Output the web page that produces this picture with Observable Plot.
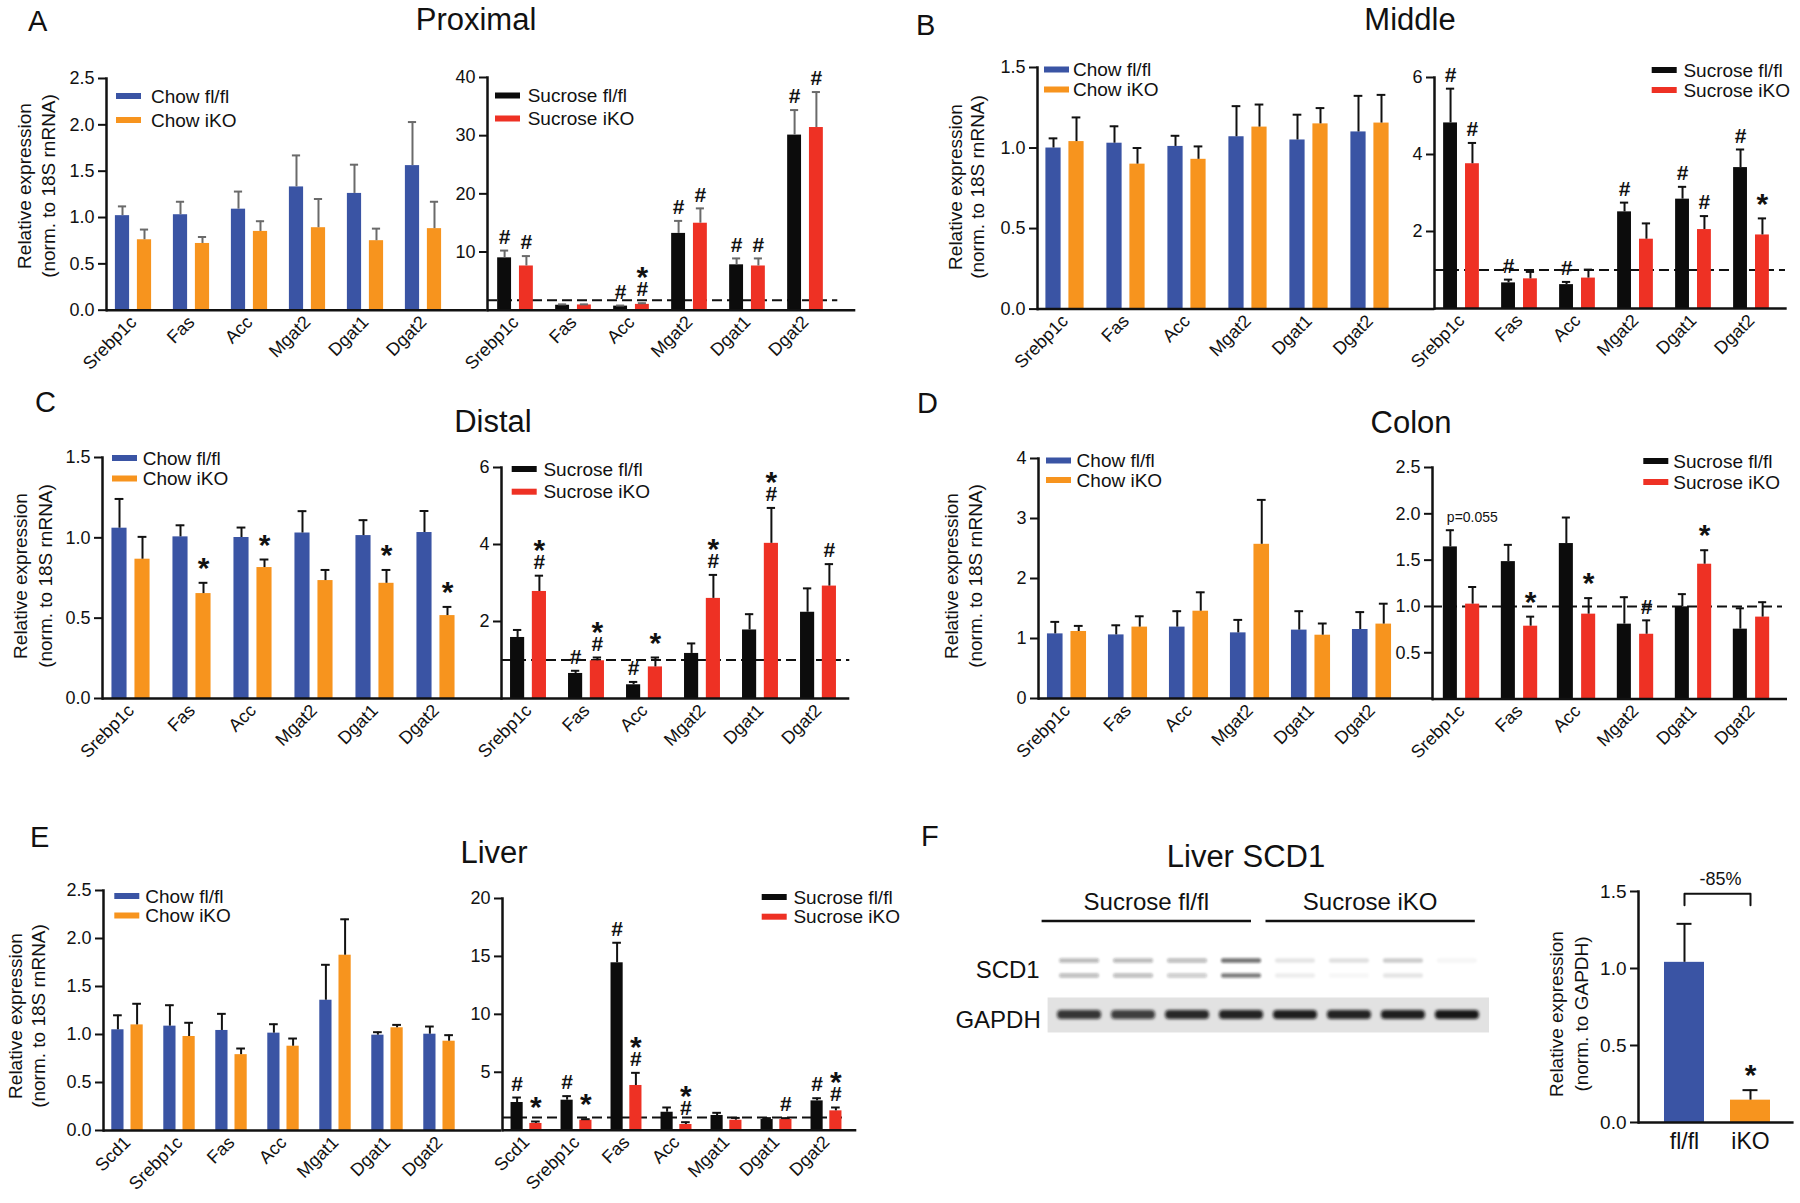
<!DOCTYPE html>
<html>
<head>
<meta charset="utf-8">
<title>Figure</title>
<script src="https://cdn.jsdelivr.net/npm/d3@7"></script>
<script src="https://cdn.jsdelivr.net/npm/@observablehq/plot@0.6"></script>
<style>
  html, body { margin: 0; padding: 0; background: #ffffff; overflow: hidden; }
  #fig { position: relative; width: 1800px; height: 1203px; overflow: hidden; background: #fff; }
  .panel { position: absolute; }
  .panel svg { display: block; max-width: none; }
</style>
</head>
<body>
<div id="fig"></div>
<script>
// ---------------- DATA ----------------
const gutGenes   = ["Srebp1c", "Fas", "Acc", "Mgat2", "Dgat1", "Dgat2"];
const liverGenes = ["Scd1", "Srebp1c", "Fas", "Acc", "Mgat1", "Dgat1", "Dgat2"];
const chowLabels = ["Chow fl/fl", "Chow iKO"];
const sucLabels  = ["Sucrose fl/fl", "Sucrose iKO"];

// A  Proximal
const proxChowFl    = [1.02, 1.03, 1.09, 1.33, 1.26, 1.56];
const proxChowFlSem = [0.10, 0.14, 0.19, 0.34, 0.31, 0.47];
const proxChowKo    = [0.76, 0.72, 0.85, 0.89, 0.75, 0.88];
const proxChowKoSem = [0.11, 0.07, 0.11, 0.31, 0.13, 0.29];
const proxSucFl     = [9.0, 0.85, 0.7, 13.2, 7.8, 30.1];
const proxSucFlSem  = [1.25, 0.15, 0.1, 2.15, 1.1, 4.3];
const proxSucKo     = [7.6, 0.9, 1.0, 14.95, 7.6, 31.4];
const proxSucKoSem  = [1.7, 0.1, 0.2, 2.55, 1.3, 6.1];
const proxSucFlMarks = ["#", "", "#", "#", "#", "#"];
const proxSucKoMarks = ["#", "", "#*", "#", "#", "#"];
const proxRef = 1.7;

// B  Middle
const midChowFl    = [1.00, 1.03, 1.01, 1.07, 1.05, 1.10];
const midChowFlSem = [0.06, 0.105, 0.066, 0.19, 0.157, 0.224];
const midChowKo    = [1.04, 0.90, 0.93, 1.13, 1.15, 1.155];
const midChowKoSem = [0.15, 0.10, 0.08, 0.14, 0.098, 0.175];
const midSucFl     = [4.82, 0.665, 0.62, 2.51, 2.84, 3.66];
const midSucFlSem  = [0.89, 0.085, 0.07, 0.24, 0.32, 0.47];
const midSucKo     = [3.76, 0.77, 0.79, 1.80, 2.05, 1.91];
const midSucKoSem  = [0.54, 0.18, 0.22, 0.41, 0.35, 0.43];
const midSucFlMarks = ["#", "#", "#", "#", "#", "#"];
const midSucKoMarks = ["#", "", "", "", "#", "*"];
const midRef = 1.0;

// C  Distal
const distChowFl    = [1.06, 1.006, 1.002, 1.03, 1.014, 1.033];
const distChowFlSem = [0.182, 0.072, 0.062, 0.136, 0.096, 0.134];
const distChowKo    = [0.867, 0.653, 0.815, 0.734, 0.717, 0.516];
const distChowKoSem = [0.139, 0.067, 0.05, 0.066, 0.083, 0.054];
const distChowKoMarks = ["", "*", "*", "", "*", "*"];
const distSucFl     = [1.585, 0.65, 0.356, 1.17, 1.78, 2.24];
const distSucFlSem  = [0.195, 0.07, 0.074, 0.26, 0.41, 0.62];
const distSucKo     = [2.78, 0.98, 0.82, 2.60, 4.03, 2.92];
const distSucKoSem  = [0.41, 0.085, 0.245, 0.61, 0.92, 0.57];
const distSucFlMarks = ["", "#", "#", "", "", ""];
const distSucKoMarks = ["#*", "#*", "*", "#*", "#*", "#"];
const distRef = 1.0;

// D  Colon
const colChowFl    = [1.077, 1.06, 1.19, 1.094, 1.14, 1.15];
const colChowFlSem = [0.20, 0.16, 0.265, 0.216, 0.315, 0.29];
const colChowKo    = [1.117, 1.19, 1.455, 2.57, 1.055, 1.24];
const colChowKoSem = [0.093, 0.18, 0.315, 0.74, 0.195, 0.34];
const colSucFl     = [1.643, 1.484, 1.679, 0.809, 0.996, 0.755];
const colSucFlSem  = [0.18, 0.181, 0.281, 0.291, 0.137, 0.225];
const colSucKo     = [1.025, 0.787, 0.917, 0.70, 1.456, 0.885];
const colSucKoSem  = [0.185, 0.103, 0.173, 0.15, 0.151, 0.161];
const colSucKoMarks = ["", "*", "*", "#", "*", ""];
const colSucFlP     = ["p=0.055", "", "", "", "", ""];
const colRef = 1.0;

// E  Liver
const livChowFl    = [1.049, 1.087, 1.042, 1.014, 1.357, 0.993, 1.003];
const livChowFlSem = [0.151, 0.218, 0.173, 0.093, 0.369, 0.031, 0.08];
const livChowKo    = [1.10, 0.979, 0.79, 0.878, 1.826, 1.07, 0.93];
const livChowKoSem = [0.22, 0.143, 0.064, 0.08, 0.374, 0.03, 0.063];
const livSucFl     = [2.39, 2.59, 14.45, 1.55, 1.27, 0.92, 2.53];
const livSucFlSem  = [0.43, 0.35, 1.73, 0.41, 0.23, 0.12, 0.23];
const livSucKo     = [0.58, 0.86, 3.86, 0.49, 0.86, 0.92, 1.67];
const livSucKoSem  = [0.17, 0.09, 1.09, 0.2, 0.2, 0.12, 0.29];
const livSucFlMarks = ["#", "#", "#", "", "", "", "#"];
const livSucKoMarks = ["*", "*", "#*", "#*", "", "#", "#*"];
const livRef = 1.1;

// F  Liver SCD1 western blot
const wbGroups = ["fl/fl", "iKO"];
const wbValues = [1.04, 0.145];
const wbSem    = [0.25, 0.065];
const wbMarks  = ["", "*"];
const wbChange = "-85%";
const wbLanes  = ["1", "2", "3", "4", "5", "6", "7", "8"];
const wbLaneGroup = ["Sucrose fl/fl", "Sucrose fl/fl", "Sucrose fl/fl", "Sucrose fl/fl",
                     "Sucrose iKO", "Sucrose iKO", "Sucrose iKO", "Sucrose iKO"];
const wbScd1Upper = [0.30, 0.30, 0.28, 0.62, 0.10, 0.12, 0.20, 0.04];
const wbScd1Lower = [0.28, 0.28, 0.22, 0.55, 0.07, 0.03, 0.10, 0.0];
const wbGapdh     = [0.82, 0.78, 0.88, 0.90, 0.92, 0.90, 0.92, 0.95];

// ---------------- STYLE ----------------
const FONT = '"Liberation Sans", Arial, Helvetica, sans-serif';
const BLUE = "#3a54a4", ORANGE = "#f7941e", BLACK = "#0c0c0c", RED = "#ee3124";
const INK = "#111111", GREYERR = "#6a6a6a";
const PSTYLE = `background: transparent; font-family: ${FONT}; color: ${INK}; overflow: visible;`;

const fig = document.getElementById("fig");
function place(node, left, top, w, h) {
  const div = document.createElement("div");
  div.className = "panel";
  div.style.left = left + "px"; div.style.top = top + "px";
  div.style.width = w + "px"; div.style.height = h + "px";
  div.appendChild(node);
  fig.appendChild(div);
}

function annotationMarks(rows, dx) {
  const items = [];
  rows.forEach(r => {
    if (!r.marks) return;
    let off = 0;
    [...r.marks].forEach((sym, j) => {
      off = j === 0 ? (sym === "#" ? 14 : 22) : off + 19;
      items.push({gene: r.gene, top: r.top, sym, off});
    });
  });
  return d3.groups(items, d => d.sym, d => d.off).flatMap(([sym, byOff]) =>
    byOff.map(([off, data]) => Plot.text(data, {
      x: "gene", y: "top", text: "sym", dx,
      dy: sym === "#" ? -off + 0.5 : -off + 7.5,
      fontSize: sym === "#" ? 21 : 30, fontWeight: "bold", fill: INK
    })));
}

function barPanel(p) {
  const left = p.ax - 64, top = p.yTop - 34;
  const W = p.xEnd - left + 8, H = p.y0 - top + 95;
  const half = p.step / 2;
  const x0 = p.c0 - half - left;
  const off = [-(p.gap / 2 + p.barW / 2), p.gap / 2 + p.barW / 2];
  const rows = p.series.map(s => p.genes.map((g, i) => ({
    gene: g, value: s.values[i], top: s.values[i] + s.sem[i],
    marks: s.marks ? s.marks[i] : "", p: s.pLabels ? s.pLabels[i] : ""
  })));
  const marks = [];
  if (p.ref != null) {
    marks.push(Plot.ruleY([p.ref], {stroke: INK, strokeWidth: 2, strokeDasharray: "10,5",
      insetRight: Math.max(0, p.xEnd - p.refEnd)}));
  }
  p.series.forEach((s, k) => {
    const near = half - p.gap / 2 - p.barW, far = half + p.gap / 2;
    marks.push(Plot.barY(rows[k], {x: "gene", y: "value", fill: s.color,
      insetLeft: k ? far : near, insetRight: k ? near : far}));
  });
  p.series.forEach((s, k) => {
    marks.push(Plot.ruleX(rows[k], {x: "gene", y1: "value", y2: "top", dx: off[k], stroke: p.errColor, strokeWidth: 2}));
    marks.push(Plot.tickY(rows[k], {x: "gene", y: "top", dx: off[k], stroke: p.errColor, strokeWidth: 2,
      insetLeft: half - 4.5, insetRight: half - 4.5}));
    marks.push(...annotationMarks(rows[k], off[k]));
    const pr = rows[k].filter(r => r.p);
    if (pr.length) marks.push(Plot.text(pr, {x: "gene", y: "top", text: "p", textAnchor: "start",
      dx: off[k] - p.barW / 2 + 4, dy: -12.5, fontSize: 14, fill: INK}));
  });
  marks.push(
    Plot.axisY({ticks: p.ticks, tickFormat: p.fmt, tickSize: 8, tickPadding: 4, fontSize: 18, strokeWidth: 2, label: null}),
    Plot.axisX({tickSize: 0, tickPadding: 9, tickRotate: -45, fontSize: 18, label: null}),
    Plot.ruleY([0], {stroke: INK, strokeWidth: 2.5}),
    Plot.frame({anchor: "left", stroke: INK, strokeWidth: 2.5})
  );
  const chart = Plot.plot({
    width: W, height: H,
    marginLeft: p.ax - left, marginTop: p.yTop - top, marginRight: 8, marginBottom: H - (p.y0 - top),
    style: PSTYLE,
    x: {domain: p.genes, range: [x0, x0 + p.step * p.genes.length], padding: 0},
    y: {domain: [0, p.yMax]},
    marks
  });
  place(chart, left, top, W, H);
}

const tk25 = [0, 0.5, 1, 1.5, 2, 2.5], tk15 = [0, 0.5, 1, 1.5];

// A
barPanel({genes: gutGenes, ax: 106, y0: 310, yTop: 78.3, xEnd: 486.7, c0: 131.5, step: 58.8, barW: 15, gap: 7,
  yMax: 2.5, ticks: tk25, fmt: ".1f", errColor: GREYERR,
  series: [{values: proxChowFl, sem: proxChowFlSem, color: BLUE}, {values: proxChowKo, sem: proxChowKoSem, color: ORANGE}]});
barPanel({genes: gutGenes, ax: 486.7, y0: 310, yTop: 77.3, xEnd: 855, c0: 512.5, step: 58.9, barW: 14.8, gap: 7,
  yMax: 40, ticks: [10, 20, 30, 40], fmt: "d", errColor: GREYERR, ref: proxRef, refEnd: 837,
  series: [{values: proxSucFl, sem: proxSucFlSem, color: BLACK, marks: proxSucFlMarks},
           {values: proxSucKo, sem: proxSucKoSem, color: RED, marks: proxSucKoMarks}]});
// B
barPanel({genes: gutGenes, ax: 1036.7, y0: 308.3, yTop: 66.7, xEnd: 1434, c0: 1063.8, step: 61.3, barW: 15.5, gap: 7.5,
  yMax: 1.5, ticks: tk15, fmt: ".1f", errColor: INK,
  series: [{values: midChowFl, sem: midChowFlSem, color: BLUE}, {values: midChowKo, sem: midChowKoSem, color: ORANGE}]});
barPanel({genes: gutGenes, ax: 1434, y0: 308.3, yTop: 77.3, xEnd: 1786.7, c0: 1459.3, step: 58.74, barW: 14.6, gap: 7.3,
  yMax: 6, ticks: [2, 4, 6], fmt: "d", errColor: INK, ref: midRef, refEnd: 1785,
  series: [{values: midSucFl, sem: midSucFlSem, color: BLACK, marks: midSucFlMarks},
           {values: midSucKo, sem: midSucKoSem, color: RED, marks: midSucKoMarks}]});
// C
barPanel({genes: gutGenes, ax: 101.7, y0: 698.3, yTop: 457.3, xEnd: 501, c0: 129.2, step: 61.2, barW: 15.3, gap: 7.7,
  yMax: 1.5, ticks: tk15, fmt: ".1f", errColor: INK,
  series: [{values: distChowFl, sem: distChowFlSem, color: BLUE},
           {values: distChowKo, sem: distChowKoSem, color: ORANGE, marks: distChowKoMarks}]});
barPanel({genes: gutGenes, ax: 501, y0: 697.7, yTop: 466.7, xEnd: 849.3, c0: 526.7, step: 58.66, barW: 14.8, gap: 7,
  yMax: 6, ticks: [2, 4, 6], fmt: "d", errColor: INK, ref: distRef, refEnd: 851,
  series: [{values: distSucFl, sem: distSucFlSem, color: BLACK, marks: distSucFlMarks},
           {values: distSucKo, sem: distSucKoSem, color: RED, marks: distSucKoMarks}]});
// D
barPanel({genes: gutGenes, ax: 1037.7, y0: 698.3, yTop: 458.3, xEnd: 1431.7, c0: 1065.7, step: 61.2, barW: 15.8, gap: 7.7,
  yMax: 4, ticks: [0, 1, 2, 3, 4], fmt: "d", errColor: INK,
  series: [{values: colChowFl, sem: colChowFlSem, color: BLUE}, {values: colChowKo, sem: colChowKoSem, color: ORANGE}]});
barPanel({genes: gutGenes, ax: 1431.7, y0: 698.3, yTop: 466.7, xEnd: 1786.7, c0: 1458, step: 58.94, barW: 15, gap: 7.3,
  yMax: 2.5, ticks: [0.5, 1, 1.5, 2, 2.5], fmt: ".1f", errColor: INK, ref: colRef, refEnd: 1781.7,
  series: [{values: colSucFl, sem: colSucFlSem, color: BLACK, pLabels: colSucFlP},
           {values: colSucKo, sem: colSucKoSem, color: RED, marks: colSucKoMarks}]});
// E
barPanel({genes: liverGenes, ax: 103.3, y0: 1130, yTop: 890, xEnd: 501.7, c0: 126.8, step: 52.28, barW: 12.5, gap: 6.7,
  yMax: 2.5, ticks: tk25, fmt: ".1f", errColor: INK,
  series: [{values: livChowFl, sem: livChowFlSem, color: BLUE}, {values: livChowKo, sem: livChowKoSem, color: ORANGE}]});
barPanel({genes: liverGenes, ax: 501.7, y0: 1130, yTop: 898.3, xEnd: 856, c0: 524.5, step: 50.35, barW: 12.5, gap: 6.3,
  yMax: 20, ticks: [5, 10, 15, 20], fmt: "d", errColor: INK, ref: livRef, refEnd: 843.3,
  series: [{values: livSucFl, sem: livSucFlSem, color: BLACK, marks: livSucFlMarks},
           {values: livSucKo, sem: livSucKoSem, color: RED, marks: livSucKoMarks}]});

// F  quantification bar chart
(function () {
  const ax = 1637.7, y0 = 1121.7, yTop = 890.7, xEnd = 1793.3, c0 = 1683.3, step = 66, barW = 40, yMax = 1.5;
  const left = ax - 64, top = yTop - 45, W = xEnd - left + 6, H = y0 - top + 45;
  const half = step / 2, x0 = c0 - half - left;
  const colors = [BLUE, ORANGE];
  const rows = wbGroups.map((g, i) => ({gene: g, value: wbValues[i], top: wbValues[i] + wbSem[i], marks: wbMarks[i]}));
  const bracket = [
    {gene: wbGroups[0], y: yMax * 0.94}, {gene: wbGroups[0], y: yMax * 0.99},
    {gene: wbGroups[1], y: yMax * 0.99}, {gene: wbGroups[1], y: yMax * 0.94}
  ];
  const marks = [
    ...rows.map((r, i) => Plot.barY([r], {x: "gene", y: "value", fill: colors[i], insetLeft: half - barW / 2, insetRight: half - barW / 2})),
    Plot.ruleX(rows, {x: "gene", y1: "value", y2: "top", stroke: INK, strokeWidth: 2}),
    Plot.tickY(rows, {x: "gene", y: "top", stroke: INK, strokeWidth: 2, insetLeft: half - 7.5, insetRight: half - 7.5}),
    ...annotationMarks(rows, 0),
    Plot.line(bracket, {x: "gene", y: "y", stroke: INK, strokeWidth: 2}),
    Plot.text([wbChange], {x: () => wbGroups[0], y: () => yMax * 0.99, text: d => d, dx: half + 3, dy: -15, fontSize: 18, fill: INK}),
    Plot.axisY({ticks: [0, 0.5, 1, 1.5], tickFormat: ".1f", tickSize: 8, tickPadding: 4, fontSize: 19, strokeWidth: 2, label: null}),
    Plot.axisX({tickSize: 0, tickPadding: 10, fontSize: 23, label: null}),
    Plot.ruleY([0], {stroke: INK, strokeWidth: 2.5}),
    Plot.frame({anchor: "left", stroke: INK, strokeWidth: 2.5})
  ];
  const chart = Plot.plot({
    width: W, height: H, marginLeft: ax - left, marginTop: yTop - top, marginRight: 6, marginBottom: H - (y0 - top),
    style: PSTYLE,
    x: {domain: wbGroups, range: [x0, x0 + step * 2], padding: 0},
    y: {domain: [0, yMax]},
    marks
  });
  place(chart, left, top, W, H);
})();

// F  western blot (bands drawn as cells, intensity -> opacity)
function blurCells(svgNode, id, sd) {
  const svg = d3.select(svgNode);
  svg.append("defs").append("filter").attr("id", id)
    .attr("x", -0.2).attr("y", -2).attr("width", 1.4).attr("height", 5)
    .append("feGaussianBlur").attr("stdDeviation", sd);
  svg.selectAll('g[aria-label="cell"]').attr("filter", `url(#${id})`);
}
(function () {
  const stripL = 1046.6, stripR = 1488.2, laneC0 = 1078, laneStep = 54.1;
  const W = stripR - stripL;
  const xr = [laneC0 - laneStep / 2 - stripL, laneC0 - laneStep / 2 - stripL + laneStep * wbLanes.length];
  // SCD1 doublet
  const top1 = 948, H1 = 40;
  const scdRows = wbLanes.flatMap((l, i) => [
    {lane: l, band: "upper", v: wbScd1Upper[i]}, {lane: l, band: "lower", v: wbScd1Lower[i]}
  ]);
  const scd = Plot.plot({
    width: W, height: H1, margin: 0, style: PSTYLE,
    x: {domain: wbLanes, range: xr, padding: 0, axis: null},
    y: {domain: ["upper", "lower"], range: [952.5 - top1, 982.5 - top1], padding: 0, axis: null},
    opacity: {domain: [0, 1], range: [0, 1]},
    marks: [Plot.cell(scdRows, {x: "lane", y: "band", fill: "#1a1a1a", fillOpacity: "v",
      insetLeft: 7, insetRight: 7, insetTop: 5.3, insetBottom: 5.3, rx: 2})]
  });
  blurCells(scd, "blurScd", 1.2);
  place(scd, stripL, top1, W, H1);
  // GAPDH strip
  const top2 = 996.7, H2 = 35;
  const gRows = wbLanes.map((l, i) => ({lane: l, band: "GAPDH", v: wbGapdh[i]}));
  const gap = Plot.plot({
    width: W, height: H2, margin: 0, style: PSTYLE,
    x: {domain: wbLanes, range: xr, padding: 0, axis: null},
    y: {domain: ["GAPDH"], range: [0, H2], padding: 0, axis: null},
    opacity: {domain: [0, 1], range: [0, 1]},
    marks: [
      Plot.frame({fill: "#e2e2e2", stroke: "none"}),
      Plot.cell(gRows, {x: "lane", y: "band", fill: "#111", fillOpacity: "v",
        insetLeft: 5, insetRight: 5, insetTop: 13, insetBottom: 13, rx: 4})
    ]
  });
  blurCells(gap, "blurGap", 1.4);
  place(gap, stripL, top2, W, H2);
})();

// ---------------- TEXT OVERLAY ----------------
const ov = d3.select(fig).append("svg")
  .attr("width", 1800).attr("height", 1203)
  .style("position", "absolute").style("left", "0px").style("top", "0px")
  .style("font-family", FONT).style("pointer-events", "none");

function txt(x, y, s, size, anchor = "start", baseline = "alphabetic") {
  ov.append("text").attr("x", x).attr("y", y).attr("font-size", size).attr("fill", INK)
    .attr("text-anchor", anchor).attr("dominant-baseline", baseline).text(s);
}
function yTitle(x1, x2, cy, lines) {
  [x1, x2].forEach((x, i) => ov.append("text")
    .attr("transform", `translate(${x},${cy}) rotate(-90)`)
    .attr("text-anchor", "middle").attr("dominant-baseline", "central")
    .attr("font-size", 19).attr("fill", INK).text(lines[i]));
}
function legend(x, ys, labels, colors, gap) {
  labels.forEach((l, i) => {
    ov.append("rect").attr("x", x).attr("y", ys[i] - 3).attr("width", 25).attr("height", 6).attr("fill", colors[i]);
    ov.append("text").attr("x", x + 25 + gap).attr("y", ys[i]).attr("dominant-baseline", "central")
      .attr("font-size", 19).attr("fill", INK).text(l);
  });
}

// panel letters
[["A", 28, 31], ["B", 916, 35], ["C", 35, 412], ["D", 917, 413], ["E", 30, 846.7], ["F", 921, 845.7]]
  .forEach(([s, x, y]) => txt(x, y, s, 29));
// panel titles
[["Proximal", 476, 30], ["Middle", 1410, 30], ["Distal", 493, 431.7], ["Colon", 1411, 432.7], ["Liver", 494, 863.3]]
  .forEach(([s, x, y]) => txt(x, y, s, 31, "middle"));
txt(1246, 866.7, "Liver SCD1", 31, "middle");

// y titles
const yLines = ["Relative expression", "(norm. to 18S rnRNA)"];
yTitle(24, 48, 186, yLines);
yTitle(955, 977, 187, yLines);
yTitle(20.7, 45, 576, yLines);
yTitle(951.7, 975.5, 576, yLines);
yTitle(15, 38.3, 1016, yLines);
yTitle(1556.7, 1581.7, 1014, ["Relative expression", "(norm. to GAPDH)"]);

// legends
legend(116, [96, 120], chowLabels, [BLUE, ORANGE], 10);
legend(495, [95.5, 118.5], sucLabels, [BLACK, RED], 7.7);
legend(1044, [69.5, 89.5], chowLabels, [BLUE, ORANGE], 4);
legend(1651.7, [70, 90], sucLabels, [BLACK, RED], 6.7);
legend(112, [458, 478.5], chowLabels, [BLUE, ORANGE], 5.7);
legend(511.7, [469, 491.7], sucLabels, [BLACK, RED], 6.7);
legend(1046, [460.5, 480], chowLabels, [BLUE, ORANGE], 5.6);
legend(1643.3, [461, 482], sucLabels, [BLACK, RED], 5);
legend(114.3, [896, 915.5], chowLabels, [BLUE, ORANGE], 6);
legend(761.7, [897, 916.7], sucLabels, [BLACK, RED], 6.7);

// western blot group labels and lane brackets
const groupSpans = [[1041.6, 1251], [1265.5, 1474.8]];
Array.from(new Set(wbLaneGroup)).forEach((g, i) => {
  const [a, b] = groupSpans[i];
  txt((a + b) / 2, 910, g, 24, "middle");
  ov.append("line").attr("x1", a).attr("x2", b).attr("y1", 921).attr("y2", 921).attr("stroke", INK).attr("stroke-width", 2.5);
});
txt(1039.7, 978.3, "SCD1", 24, "end");
txt(1040.8, 1028.3, "GAPDH", 24, "end");
</script>
</body>
</html>
